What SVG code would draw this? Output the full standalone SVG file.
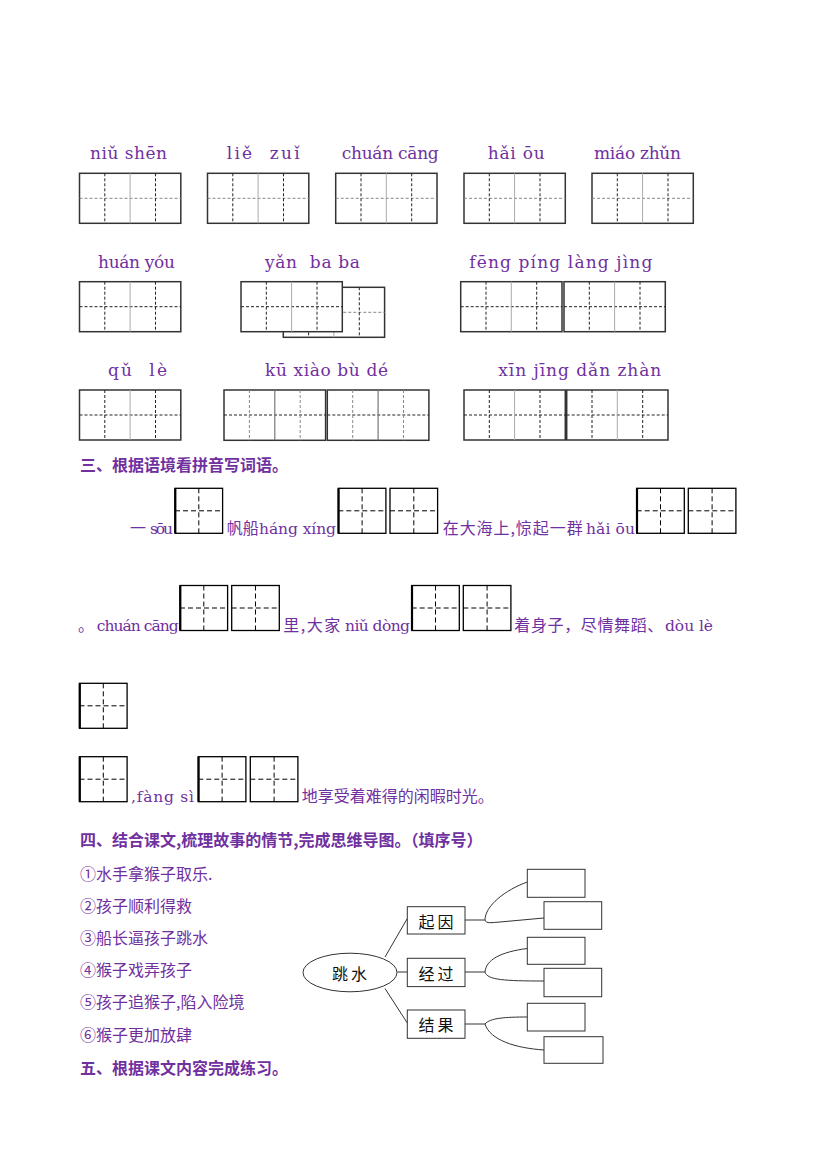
<svg xmlns="http://www.w3.org/2000/svg" xmlns:xlink="http://www.w3.org/1999/xlink" width="827" height="1169" viewBox="0 0 827 1169">
<style>
.py{font-family:"DejaVu Serif","Liberation Serif","Noto Sans CJK SC",serif;font-size:17px;fill:#7030A0;white-space:pre}
.pys{font-family:"DejaVu Serif","Liberation Serif","Noto Sans CJK SC",serif;font-size:15.5px;fill:#7030A0;white-space:pre}
.cn{font-family:"Noto Sans CJK SC",sans-serif;font-size:16px;fill:#7030A0}
.hd{font-family:"Noto Sans CJK SC",sans-serif;font-size:16px;font-weight:bold;fill:#7030A0}
.mmt{font-family:"Noto Sans CJK SC",sans-serif;font-size:16px;fill:#111;letter-spacing:3px;text-anchor:middle;dominant-baseline:central}
.ob{fill:#fff;stroke:#333;stroke-width:1.5}
.dk{stroke:#222;stroke-width:1;stroke-dasharray:3 2}
.lg{stroke:#888;stroke-width:1;stroke-dasharray:3 2}
.sg{stroke:#aaa;stroke-width:1}
.sm{stroke:#777;stroke-width:1.2}
.sq{fill:#fff;stroke:#000;stroke-width:1.3}
.sqd{stroke:#000;stroke-width:1;stroke-dasharray:5 3}
.mm{fill:#fff;stroke:#333;stroke-width:1}
.cl{fill:none;stroke:#333;stroke-width:1}
</style>
<defs>
<g id="b4">
<rect class="ob" x="0" y="0" width="101.3" height="50"/>
<line class="lg" x1="0" y1="25" x2="101.3" y2="25"/>
<line class="dk" x1="25.3" y1="0" x2="25.3" y2="50"/>
<line class="sg" x1="50.6" y1="0" x2="50.6" y2="50"/>
<line class="dk" x1="76" y1="0" x2="76" y2="50"/>
</g>
<g id="b4d">
<rect class="ob" x="0" y="0" width="101.3" height="50"/>
<line class="dk" x1="0" y1="25" x2="101.3" y2="25"/>
<line class="dk" x1="25.3" y1="0" x2="25.3" y2="50"/>
<line class="sg" x1="50.6" y1="0" x2="50.6" y2="50"/>
<line class="dk" x1="76" y1="0" x2="76" y2="50"/>
</g>
<g id="b4b">
<rect class="ob" x="0" y="0" width="101.6" height="50.3"/>
<line class="dk" x1="0" y1="25" x2="101.6" y2="25"/>
<line class="lg" x1="25.4" y1="0" x2="25.4" y2="50.3"/>
<line class="sm" x1="50.8" y1="0" x2="50.8" y2="50.3"/>
<line class="lg" x1="76.2" y1="0" x2="76.2" y2="50.3"/>
</g>
<g id="sq">
<rect class="sq" x="0" y="0" width="47.6" height="45"/>
<line x1="0.3" y1="0" x2="0.3" y2="45" stroke="#000" stroke-width="2.2"/>
<line class="sqd" x1="0" y1="22.5" x2="47.6" y2="22.5"/>
<line class="sqd" x1="23.8" y1="0" x2="23.8" y2="45"/>
</g>
<g id="sq2">
<rect class="sq" x="0" y="0" width="47.6" height="45"/>
<line class="sqd" x1="0" y1="22.5" x2="47.6" y2="22.5"/>
<line class="sqd" x1="23.8" y1="0" x2="23.8" y2="45" stroke-width="2"/>
</g>
</defs>

<g id="pinyin-section">
<g id="w-niushen"><text class="py" x="90" y="158.5" textLength="77">niǔ shēn</text><use xlink:href="#b4" x="79.5" y="173.3"/></g>
<g id="w-liezui"><text class="py" x="226.7" y="158.5" textLength="73">liě  zuǐ</text><use xlink:href="#b4" x="207.5" y="173.3"/></g>
<g id="w-chuancang"><text class="py" x="341.7" y="158.5" textLength="97">chuán cāng</text><use xlink:href="#b4" x="335.7" y="173.3"/></g>
<g id="w-haiou"><text class="py" x="487.7" y="158.5" textLength="57">hǎi ōu</text><use xlink:href="#b4" x="464" y="173.3"/></g>
<g id="w-miaozhun"><text class="py" x="594" y="158.5" textLength="87">miáo zhǔn</text><use xlink:href="#b4" x="592" y="173.3"/></g>

<g id="w-huanyou"><text class="py" x="98" y="267.5" textLength="77">huán yóu</text><use xlink:href="#b4d" x="79.5" y="281.7"/></g>
<g id="w-yanbaba"><text class="py" x="265" y="267.5" textLength="95">yǎn  ba ba</text>
<use xlink:href="#b4" x="283.3" y="287.3"/>
<use xlink:href="#b4d" x="241" y="281.7"/></g>
<g id="w-fengping"><text class="py" x="469.3" y="267.5" textLength="183">fēng píng làng jìng</text><use xlink:href="#b4d" x="460.7" y="281.7"/><use xlink:href="#b4d" x="564" y="281.7"/></g>

<g id="w-qule"><text class="py" x="108" y="375.5" textLength="59">qǔ  lè</text><use xlink:href="#b4d" x="79.5" y="390"/></g>
<g id="w-kuxiao"><text class="py" x="265" y="375.5" textLength="123">kū xiào bù dé</text><use xlink:href="#b4b" x="224" y="390"/><use xlink:href="#b4b" x="327.3" y="390"/></g>
<g id="w-xinjing"><text class="py" x="498.3" y="375.5" textLength="163">xīn jīng dǎn zhàn</text><use xlink:href="#b4d" x="464" y="390"/><use xlink:href="#b4d" x="566.7" y="390"/></g>
</g>

<g id="section3">
<text class="hd" x="80" y="471">三、根据语境看拼音写词语。</text>
<g id="s3-line1">
<text class="cn" x="130" y="534">一</text>
<text class="pys" x="150" y="534" textLength="23">sōu</text>
<use xlink:href="#sq" x="175" y="488.3"/>
<text class="cn" x="226.7" y="534">帆船</text>
<text class="pys" x="259" y="534" textLength="77">háng xíng</text>
<use xlink:href="#sq" x="338.3" y="488.3"/>
<use xlink:href="#sq2" x="390" y="488.3"/>
<text class="cn" x="442.7" y="534" textLength="140">在大海上,惊起一群</text>
<text class="pys" x="586" y="534" textLength="49">hǎi ōu</text>
<use xlink:href="#sq" x="636.7" y="488.3"/>
<use xlink:href="#sq2" x="688.3" y="488.3"/>
</g>
<g id="s3-line2">
<text class="cn" x="78" y="631">。</text>
<text class="pys" x="96.7" y="631" textLength="82">chuán cāng</text>
<use xlink:href="#sq" x="180" y="585.5"/>
<use xlink:href="#sq2" x="231.7" y="585.5"/>
<text class="cn" x="283.3" y="631" textLength="57">里,大家</text>
<text class="pys" x="345" y="631" textLength="65">niǔ dòng</text>
<use xlink:href="#sq" x="411.7" y="585.5"/>
<use xlink:href="#sq2" x="463.3" y="585.5"/>
<text class="cn" x="514.3" y="631" textLength="149">着身子，尽情舞蹈、</text>
<text class="pys" x="665" y="631" textLength="48">dòu lè</text>
</g>
<g id="s3-line3">
<use xlink:href="#sq" x="79.5" y="683.3"/>
</g>
<g id="s3-line4">
<use xlink:href="#sq" x="79.5" y="756.7"/>
<text class="pys" x="131" y="802" textLength="63">,fàng sì</text>
<use xlink:href="#sq" x="198.3" y="756.7"/>
<use xlink:href="#sq2" x="250.3" y="756.7"/>
<text class="cn" x="301.7" y="802">地享受着难得的闲暇时光。</text>
</g>
</g>

<g id="section4">
<text class="hd" x="80" y="846">四、结合课文,梳理故事的情节,完成思维导图。（填序号）</text>
<g id="options">
<text class="cn" x="80" y="880">①水手拿猴子取乐.</text>
<text class="cn" x="80" y="912">②孩子顺利得救</text>
<text class="cn" x="80" y="944">③船长逼孩子跳水</text>
<text class="cn" x="80" y="976">④猴子戏弄孩子</text>
<text class="cn" x="80" y="1008">⑤孩子追猴子,陷入险境</text>
<text class="cn" x="80" y="1041">⑥猴子更加放肆</text>
</g>
</g>

<g id="connectors">
<line class="cl" x1="385" y1="957" x2="407.3" y2="918.5"/>
<line class="cl" x1="397.3" y1="972" x2="407.3" y2="972"/>
<line class="cl" x1="385" y1="988.5" x2="407.3" y2="1023"/>
<line class="cl" x1="465" y1="920" x2="485" y2="920"/>
<line class="cl" x1="465" y1="972" x2="485" y2="972"/>
<line class="cl" x1="465" y1="1024" x2="485" y2="1024" stroke-width="2"/>
<path class="cl" d="M485,920 C485,906 505,890 527.3,882"/>
<path class="cl" d="M485,920 C486,924 492,922.5 500,922 L544,918"/>
<path class="cl" d="M485,972 C486,960 500,952 527.3,948.5"/>
<path class="cl" d="M485,972 C487,980 505,981 544,981"/>
<path class="cl" d="M485,1024 C490,1018 505,1017 527.3,1017"/>
<path class="cl" d="M485,1024 C490,1040 515,1048 544,1050"/>
</g>

<g id="n-tiaoshui"><ellipse class="mm" cx="350" cy="972.5" rx="47" ry="19.3"/><text class="mmt" x="351" y="973">跳水</text></g>
<g id="n-qiyin"><rect class="mm" x="407.3" y="906.7" width="57.7" height="27.3"/><text class="mmt" x="437.5" y="920.5">起因</text></g>
<g id="n-jingguo"><rect class="mm" x="407.3" y="958.3" width="57.7" height="28.3"/><text class="mmt" x="437.5" y="972.5">经过</text></g>
<g id="n-jieguo"><rect class="mm" x="407.3" y="1010" width="57.7" height="28.3" stroke-width="2"/><text class="mmt" x="437.5" y="1024">结果</text></g>
<g id="n-a1"><rect class="mm" x="527.3" y="869.3" width="57.7" height="28"/></g>
<g id="n-a2"><rect class="mm" x="544" y="901.7" width="57.7" height="27.6"/></g>
<g id="n-b1"><rect class="mm" x="527.3" y="937.3" width="57.7" height="27"/></g>
<g id="n-b2"><rect class="mm" x="544" y="968.3" width="57.7" height="28.4"/></g>
<g id="n-c1"><rect class="mm" x="527.3" y="1003.3" width="57.7" height="27.7"/></g>
<g id="n-c2"><rect class="mm" x="544" y="1036.7" width="59" height="26.6"/></g>

<g id="section5">
<text class="hd" x="80" y="1074">五、根据课文内容完成练习。</text>
</g>
</svg>
